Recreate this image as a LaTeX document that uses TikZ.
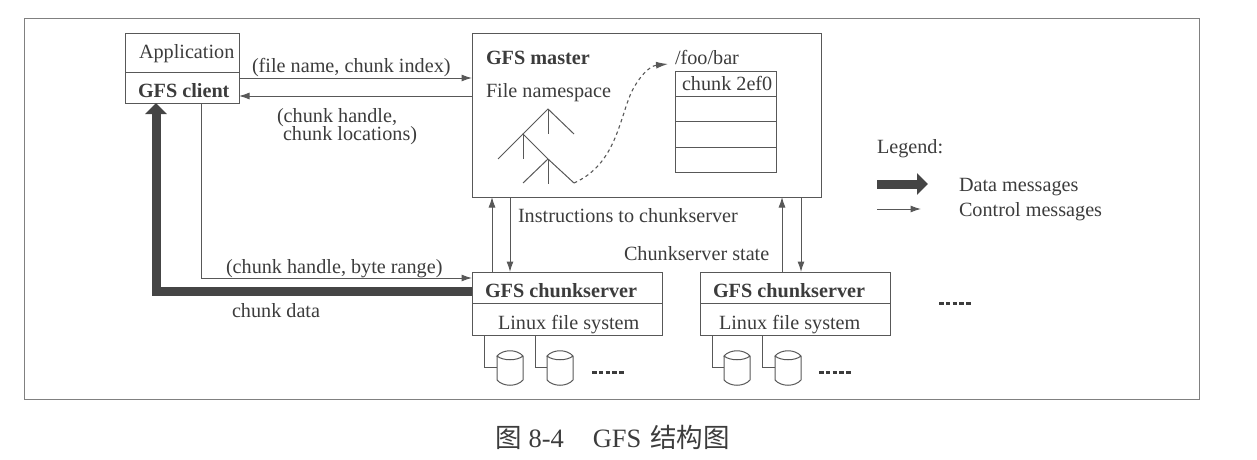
\documentclass[tikz,border=0pt]{standalone}
\usepackage{fontspec}
\setmainfont{Liberation Serif}
\newfontfamily\cjkfont{Noto Sans CJK SC}
\usetikzlibrary{arrows.meta,calc}
\definecolor{ink}{HTML}{3C3C3C}
\definecolor{linec}{HTML}{585858}
\definecolor{framec}{HTML}{808080}
\definecolor{thickc}{HTML}{454545}
\tikzset{
  x=1pt,y=-1pt,
  every node/.style={inner sep=0pt,outer sep=0pt,text=ink},
  lbl/.style={anchor=base west,font=\fontsize{20.2}{22}\selectfont},
  blbl/.style={lbl,font=\fontsize{20.2}{22}\selectfont\bfseries},
  boxn/.style={draw=linec,line width=1pt,anchor=north west},
  ctrl/.style={draw=linec,line width=1pt,-{Latex[length=10.5pt,width=7pt]}},
  plainl/.style={draw=linec,line width=1pt},
  tree/.style={draw=linec,line width=1pt},
  datamsg/.style={draw=thickc,line width=9pt,-{Triangle[length=11pt,width=21pt]}},
  dotsn/.style={draw=ink,line width=3pt,dash pattern=on 4.6pt off 2.2pt},
}
\newcommand{\gbox}[5]{\node[boxn,minimum width=#4 pt,minimum height=#5 pt] (#1) at (#2,#3) {};}
\newcommand{\drive}[3]{%
  \node[minimum width=26pt,minimum height=30pt,anchor=north west] (#1) at (#2,#3) {};
  \draw[plainl,fill=white] ($(#1.north west)+(0,3)$) -- ($(#1.south west)+(0,-3)$)
    .. controls ($(#1.south west)+(6,4)$) and ($(#1.south east)+(-6,4)$) .. ($(#1.south east)+(0,-3)$)
    -- ($(#1.north east)+(0,3)$)
    .. controls ($(#1.north east)+(-6,-4)$) and ($(#1.north west)+(6,-4)$) .. ($(#1.north west)+(0,3)$)
    .. controls ($(#1.north west)+(6,8)$) and ($(#1.north east)+(-6,8)$) .. ($(#1.north east)+(0,3)$);
}
\begin{document}
\begin{tikzpicture}
\useasboundingbox (0,0) rectangle (1257,460);
\node[boxn,draw=framec,minimum width=1175pt,minimum height=380pt] (frame) at (24,19) {};

% Application / client
\gbox{app}{125}{34}{114}{38}
\gbox{client}{125}{72}{114}{31}
\node[lbl] (tapp) at (139,59) {Application};
\node[blbl] (tcl) at (138,97) {GFS client};

% master
\gbox{master}{472}{34}{349}{163}
\node[blbl] (tm) at (486,64) {GFS master};
\node[lbl] (tns) at (486,97) {File namespace};
\node[lbl] (tfb) at (675,64) {/foo/bar};
\gbox{t1}{675}{71}{101}{25}
\gbox{t2}{675}{96}{101}{25}
\gbox{t3}{675}{121}{101}{26}
\gbox{t4}{675}{147}{101}{25}
\node[lbl] (tc) at (682,90) {chunk 2ef0};

% tree
\coordinate (ra) at (548,109);
\coordinate (rb) at (523,134);
\coordinate (rc) at (548,159);
\coordinate (rd) at (574,183);
\draw[tree] (rd) -- (rc) -- (rb) -- (ra) -- (574,134);
\draw[tree] (ra) -- (548,134);
\draw[tree] (rb) -- (498,159);
\draw[tree] (rb) -- (523,159);
\draw[tree] (rc) -- (523,183);
\draw[tree] (rc) -- (548,184);
\coordinate (ctip) at (668,64);
\draw[draw=linec,line width=1.1pt,dash pattern=on 3.4pt off 3.2pt,-{Latex[length=12pt,width=7pt]}]
  (rd) .. controls (612,166) and (618,128) .. (629,98) .. controls (635,82) and (648,66) .. (ctip);

% chunkservers
\gbox{csa}{472}{272}{190}{31}
\gbox{lfa}{472}{303}{190}{32}
\node[blbl] (tcsa) at (485,297) {GFS chunkserver};
\node[lbl] (tlfa) at (498,329) {Linux file system};
\gbox{csb}{700}{272}{190}{31}
\gbox{lfb}{700}{303}{190}{32}
\node[blbl] (tcsb) at (713,297) {GFS chunkserver};
\node[lbl] (tlfb) at (719,329) {Linux file system};

% top arrows
\draw[ctrl] ($(client.north east)+(0,6)$) -- ($(master.north west)+(0,44)$);
\node[lbl] (tf) at (252,72) {(file name, chunk index)};
\draw[ctrl] ($(master.north west)+(0,62)$) -- ($(client.north east)+(0,24)$);
\node[lbl] (th1) at (277,122) {(chunk handle,};
\node[lbl] (th2) at (283,140) {chunk locations)};

% client to chunkserver
\coordinate (cbend) at ($(client.south west)+(76,175)$);
\draw[ctrl] ($(client.south west)+(76,0)$) -- (cbend) -- ($(csa.north west)+(0,6)$);
\node[lbl] (tr) at (226,273) {(chunk handle, byte range)};
\coordinate (dbend) at ($(client.south west)+(31,188)$);
\draw[datamsg] ($(csa.north west)+(0,19)$) -- (dbend) -- ($(client.south west)+(31,0)$);
\node[lbl] (td) at (232,317) {chunk data};

% master <-> chunkservers
\draw[ctrl] ($(csa.north west)+(20,0)$) -- ($(master.south west)+(20,0)$);
\draw[ctrl] ($(master.south west)+(38,0)$) -- ($(csa.north west)+(38,0)$);
\draw[ctrl] ($(csb.north west)+(82,0)$) -- ($(master.south west)+(310,0)$);
\draw[ctrl] ($(master.south west)+(329,0)$) -- ($(csb.north west)+(101,0)$);
\node[lbl] (ti) at (518,222) {Instructions to chunkserver};
\node[lbl] (ts) at (624,260) {Chunkserver state};

% drives
\drive{d1}{497}{353}
\drive{d2}{547}{353}
\drive{d3}{724}{353}
\drive{d4}{775}{353}
\draw[plainl] ($(lfa.south west)+(12,0)$) |- ($(d1.north west)+(0,14)$);
\draw[plainl] ($(lfa.south west)+(63,0)$) |- ($(d2.north west)+(0,14)$);
\draw[plainl] ($(lfb.south west)+(12,0)$) |- ($(d3.north west)+(0,14)$);
\draw[plainl] ($(lfb.south west)+(62,0)$) |- ($(d4.north west)+(0,14)$);
\draw[dotsn] (592,372) -- (624,372);
\draw[dotsn] (819,372) -- (852,372);
\draw[dotsn] (939,303) -- (972,303);

% legend
\node[lbl] (tl) at (877,153) {Legend:};
\coordinate (la) at (877,184);
\coordinate (lb) at (928,184);
\coordinate (lc) at (877,209);
\coordinate (ld) at (921,209);
\draw[datamsg] (la) -- (lb);
\draw[ctrl] (lc) -- (ld);
\node[lbl] (tdm) at (959,191) {Data messages};
\node[lbl] (tcm) at (959,216) {Control messages};

% caption
\node[anchor=base west,font=\fontsize{26.5}{28}\selectfont] (cap) at (495,447) {{\cjkfont 图}\hspace{7pt}8-4\hspace{29pt}GFS\hspace{9pt}{\cjkfont 结构图}};
\end{tikzpicture}
\end{document}
